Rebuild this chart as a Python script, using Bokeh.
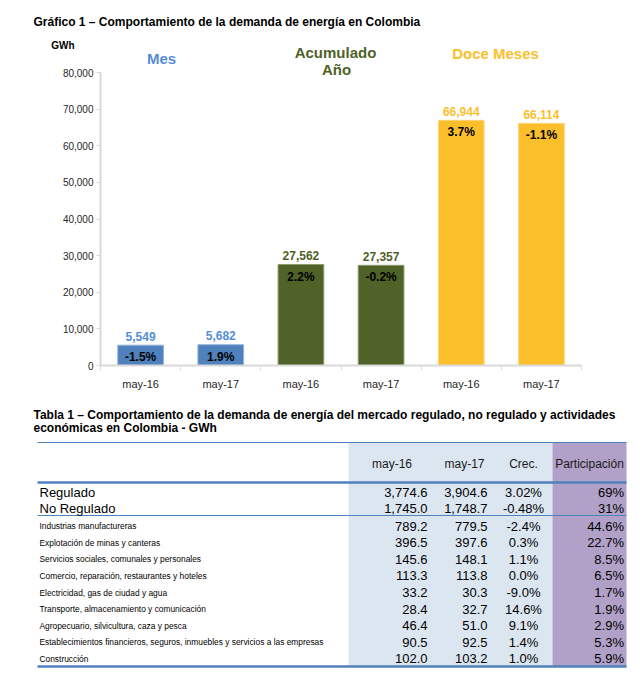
from bokeh.plotting import figure
from bokeh.models import Range1d, FixedTicker, NumeralTickFormatter, LinearAxis
from bokeh.embed import file_html
from bokeh.resources import INLINE
from bokeh.core.properties import value

# ---------------- data: chart ----------------
chart_title = "Gráfico 1 – Comportamiento de la demanda de energía en Colombia"
unit_label = "GWh"
periods = ["may-16", "may-17", "may-16", "may-17", "may-16", "may-17"]
group_of_bar = [0, 0, 1, 1, 2, 2]
group_names = ["Mes", "Acumulado", "Año", "Doce Meses"]
demand_gwh = [5549, 5682, 27562, 27357, 66944, 66114]
growth_pct = [-1.5, 1.9, 2.2, -0.2, 3.7, -1.1]
y_ticks = [0, 10000, 20000, 30000, 40000, 50000, 60000, 70000, 80000]

# ---------------- data: table ----------------
table_title_1 = "Tabla 1 – Comportamiento de la demanda de energía del mercado regulado, no regulado y actividades"
table_title_2 = "económicas en Colombia - GWh"
col_headers = ["may-16", "may-17", "Crec.", "Participación"]
market_names = ["Regulado", "No Regulado"]
market_may16 = [3774.6, 1745.0]
market_may17 = [3904.6, 1748.7]
market_growth = [3.02, -0.48]
market_share = [69, 31]
activity_names = [
    "Industrias manufactureras",
    "Explotación de minas y canteras",
    "Servicios sociales, comunales y personales",
    "Comercio, reparación, restaurantes y hoteles",
    "Electricidad, gas de ciudad y agua",
    "Transporte, almacenamiento y comunicación",
    "Agropecuario, silvicultura, caza y pesca",
    "Establecimientos financieros, seguros, inmuebles y servicios a las empresas",
    "Construcción",
]
activity_may16 = [789.2, 396.5, 145.6, 113.3, 33.2, 28.4, 46.4, 90.5, 102.0]
activity_may17 = [779.5, 397.6, 148.1, 113.8, 30.3, 32.7, 51.0, 92.5, 103.2]
activity_growth = [-2.4, 0.3, 1.1, 0.0, -9.0, 14.6, 9.1, 1.4, 1.0]
activity_share = [44.6, 22.7, 8.5, 6.5, 1.7, 1.9, 2.9, 5.3, 5.9]

# ---------------- styles / layout ----------------
FONT = value("Liberation Sans")
W, H = 636, 676
bar_fill = ["#4F81BD", "#4F6228", "#FBBF2B"]
bar_line = ["#95B3D7", "#8A9A6A", "#FDD47A"]
label_col = ["#558ED5", "#4F6228", "#FBBF2B"]
AXIS_GRAY = "#D9D9D9"

# chart plotting area in canvas pixels
CX_LEFT, CX_RIGHT = 100, 581      # category range 0.5 .. 6.5
CY_ZERO, CY_TOP = 365, 72         # value 0 .. 80000
n = len(periods)
ux = (CX_RIGHT - CX_LEFT) / n
uy = (CY_ZERO - CY_TOP) / y_ticks[-1]

p = figure(width=W, height=H, output_backend="svg", toolbar_location=None,
           x_range=Range1d(0.5 - CX_LEFT / ux, 0.5 + (W - CX_LEFT) / ux),
           y_range=Range1d((CY_ZERO - H) / uy, CY_ZERO / uy),
           x_axis_location=None, y_axis_location=None, min_border=0)
p.extra_x_ranges = {"px": Range1d(0, W)}
p.extra_y_ranges = {"px": Range1d(H, 0)}
p.outline_line_color = None
p.xgrid.grid_line_color = None
p.ygrid.grid_line_color = None

xs = list(range(1, n + 1))
fills = [bar_fill[g] for g in group_of_bar]
lines = [bar_line[g] for g in group_of_bar]
lcols = [label_col[g] for g in group_of_bar]

p.vbar(x=xs, top=demand_gwh, bottom=0, width=0.57, fill_color=fills, line_color=lines, line_width=1)

p.text(x=xs, y=demand_gwh, text=[f"{v:,}" for v in demand_gwh], text_align="center",
       text_baseline="middle", y_offset=-9, text_font_size="12px", text_font_style="bold",
       text_color=lcols, text_font=FONT)
p.text(x=xs, y=demand_gwh, text=[f"{v:.1f}%" for v in growth_pct], text_align="center",
       text_baseline="middle", y_offset=12, text_font_size="12px", text_font_style="bold",
       text_color="black", text_font=FONT)

# x axis (category axis along value 0)
xa = LinearAxis(fixed_location=0, bounds=(0.5, n + 0.5))
xa.ticker = FixedTicker(ticks=xs, minor_ticks=[x - 0.5 for x in xs] + [xs[-1] + 0.5])
xa.major_label_overrides = {x: lab for x, lab in zip(xs, periods)}
xa.axis_line_color = AXIS_GRAY
xa.axis_line_width = 2
xa.major_tick_line_color = None
xa.major_tick_out = 0
xa.major_tick_in = 0
xa.minor_tick_line_color = AXIS_GRAY
xa.minor_tick_out = 5
xa.minor_tick_in = 0
xa.minor_tick_line_width = 1
xa.major_label_standoff = 7
xa.major_label_text_font_size = "11px"
xa.major_label_text_font = "Liberation Sans"
xa.major_label_text_color = "#262626"
p.add_layout(xa, "below")

# y axis (value axis at the first category boundary)
ya = LinearAxis(fixed_location=0.5, bounds=(y_ticks[0], y_ticks[-1]))
ya.ticker = FixedTicker(ticks=y_ticks)
ya.formatter = NumeralTickFormatter(format="0,0")
ya.axis_line_color = AXIS_GRAY
ya.axis_line_width = 2
ya.major_tick_line_color = AXIS_GRAY
ya.major_tick_out = 4
ya.major_tick_in = 0
ya.minor_tick_line_color = None
ya.major_label_standoff = 3
ya.major_label_text_font_size = "10px"
ya.major_label_text_font = "Liberation Sans"
ya.major_label_text_color = "#262626"
p.add_layout(ya, "left")

PX = dict(x_range_name="px", y_range_name="px")

# chart titles
p.text(x=[33], y=[21], text=[chart_title], text_align="left", text_baseline="middle",
       text_font_size="12px", text_font_style="bold", text_color="black", text_font=FONT, **PX)
p.text(x=[62.5], y=[45], text=[unit_label], text_align="center", text_baseline="middle",
       text_font_size="10px", text_font_style="bold", text_color="black", text_font=FONT, **PX)
group_label_x = [161, 335, 336, 495]
group_label_y = [58, 52, 69, 53]
group_label_c = [label_col[0], label_col[1], label_col[1], label_col[2]]
p.text(x=group_label_x, y=group_label_y, text=group_names, text_align="center",
       text_baseline="middle", text_font_size="15px", text_font_style="bold",
       text_color=group_label_c, text_font=FONT, **PX)

# ---------------- table ----------------
TL, TR = 37, 626
BLUE_L, PURP_L = 348, 552
Y_TOP, Y_HEAD_LINE, Y_MID_LINE, Y_BOT = 442, 482, 515, 666
LINE_BLUE = "#4F81BD"

p.quad(left=[BLUE_L, PURP_L], right=[PURP_L, TR], top=[Y_TOP, Y_TOP], bottom=[Y_BOT, Y_BOT],
       fill_color=["#DCE6F1", "#B1A0C7"], line_color=None, **PX)
p.segment(x0=[TL] * 4, x1=[TR] * 4, y0=[Y_TOP, Y_HEAD_LINE, Y_MID_LINE, Y_BOT],
          y1=[Y_TOP, Y_HEAD_LINE, Y_MID_LINE, Y_BOT], line_color=LINE_BLUE,
          line_width=[1.2, 2.5, 1.2, 2.5], **PX)

p.text(x=[33, 33], y=[414, 427], text=[table_title_1, table_title_2], text_align="left",
       text_baseline="middle", text_font_size="12px", text_font_style="bold",
       text_color="black", text_font=FONT, **PX)

p.text(x=[391.5, 464, 523, 589], y=[463] * 4, text=col_headers, text_align="center",
       text_baseline="middle", text_font_size="12px", text_color="#1a1a1a", text_font=FONT, **PX)

X_NAME, X_M16, X_M17, X_CREC, X_PART = 39, 427, 487, 523, 623.5


def row_texts(ys, names, m16, m17, growth, share, name_size, gfmt, sfmt):
    k = len(ys)
    p.text(x=[X_NAME] * k, y=ys, text=names, text_align="left", text_baseline="middle",
           text_font_size=name_size, text_color="black", text_font=FONT, **PX)
    cols = [
        (X_M16, [f"{v:,.1f}" for v in m16], "right"),
        (X_M17, [f"{v:,.1f}" for v in m17], "right"),
        (X_CREC, [gfmt.format(v) for v in growth], "center"),
        (X_PART, [sfmt.format(v) for v in share], "right"),
    ]
    for cx, txt, al in cols:
        p.text(x=[cx] * k, y=ys, text=txt, text_align=al, text_baseline="middle",
               text_font_size="13px", text_color="black", text_font=FONT, **PX)


market_y = [492 + 16 * i for i in range(len(market_names))]
row_texts(market_y, market_names, market_may16, market_may17, market_growth, market_share,
          "13px", "{:.2f}%", "{:.0f}%")
activity_y = [525.8 + 16.55 * i for i in range(len(activity_names))]
row_texts(activity_y, activity_names, activity_may16, activity_may17, activity_growth,
          activity_share, "8.4px", "{:.1f}%", "{:.1f}%")

open("out.html", "w").write(file_html(p, INLINE))
